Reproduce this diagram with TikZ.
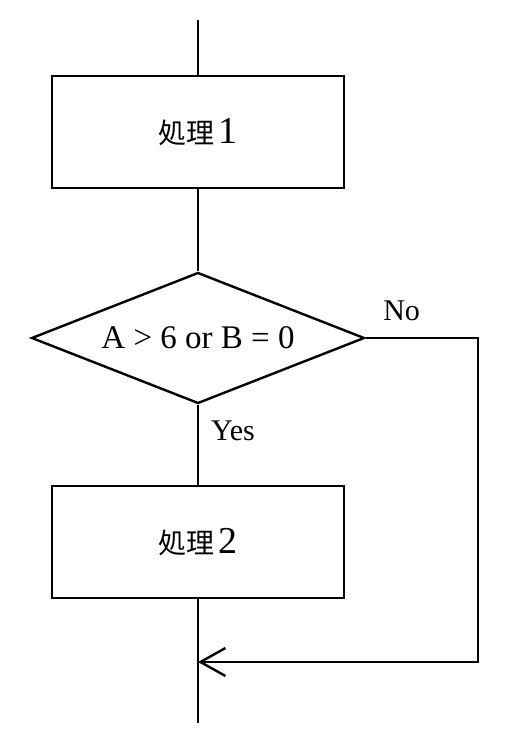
\documentclass[tikz,border=0pt]{standalone}
\usepackage{fontspec}
\setmainfont{Liberation Serif}
\newfontfamily\cjk{Noto Sans CJK JP}
\usetikzlibrary{shapes.geometric, arrows.meta, positioning}
\tikzstyle{process} = [rectangle, minimum width=146pt, minimum height=56pt, text centered, draw=black, line width=1.2pt, font=\fontsize{14}{16}\selectfont]
\tikzstyle{decision} = [diamond, aspect=2.54, minimum width=166.5pt, minimum height=65.5pt, inner sep=0pt, text centered, draw=black, line width=1.2pt, font=\fontsize{16.5}{18}\selectfont]
\tikzstyle{flowline} = [line width=1.2pt]
\tikzstyle{arrow} = [line width=1.2pt, -{Straight Barb[length=12.5pt, width=14pt]}]
\tikzstyle{lbl} = [font=\fontsize{15}{17}\selectfont, inner sep=0pt]

\begin{document}
\begin{tikzpicture}[x=0.5pt, y=-0.5pt]
\useasboundingbox (0,0) rectangle (506,738);

% Start and end of the flow
\coordinate (start) at (198,20);
\coordinate (stop) at (198,723);

% Processes and condition
\node[process] (proc1) at (198,132) {{\cjk 処理}\,{\fontsize{19}{20}\selectfont 1}};
\node[decision] (cond) at (198,338) {A > 6 or B = 0};
\node[process] (proc2) at (198,542) {{\cjk 処理}\,{\fontsize{19}{20}\selectfont 2}};

% Return path
\coordinate (corner1) at (478,338);
\coordinate (corner2) at (478,662);
\coordinate (join) at (198,662);

% Lines
\draw[flowline] (start) -- (proc1);
\draw[flowline] (proc1) -- (cond);
\draw[flowline] (cond.south) -- node[lbl, pos=0.32, right=6pt] {Yes} (proc2);
\draw[flowline] (proc2) -- (stop);
\draw[arrow] (cond.east) -- node[lbl, pos=0.32, above=8pt] {No} (corner1) -- (corner2) -- (join);

\end{tikzpicture}
\end{document}
